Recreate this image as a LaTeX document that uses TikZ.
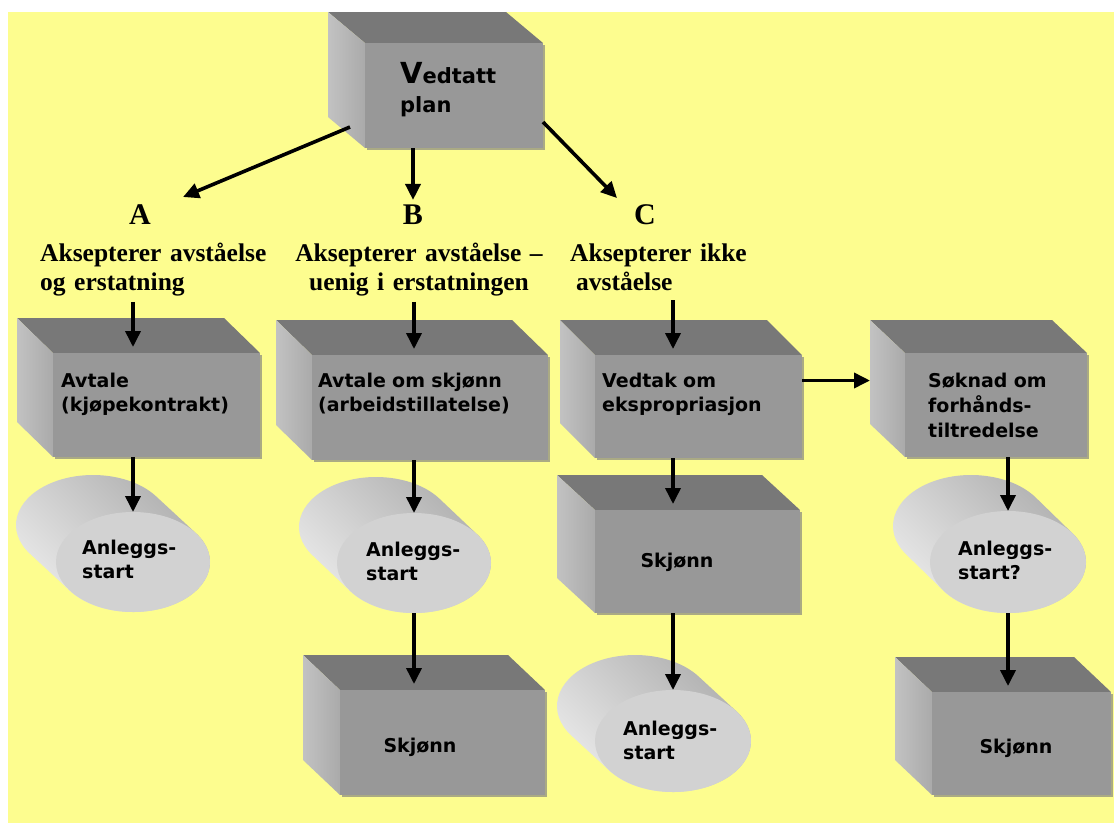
\documentclass[tikz,border=0pt]{standalone}
\usepackage{fontspec}
\setmainfont{Liberation Serif}
\newfontfamily\boxfont{DejaVu Sans}
\usetikzlibrary{arrows.meta,shapes.geometric}
\definecolor{bgyellow}{RGB}{253,253,143}
\definecolor{frontgray}{RGB}{152,152,152}
\definecolor{topgray}{RGB}{120,120,120}
\definecolor{sidelight}{RGB}{194,194,194}
\definecolor{sidedark}{RGB}{170,170,170}
\definecolor{shadowgray}{RGB}{135,135,128}
\definecolor{ellfront}{RGB}{210,210,210}
\definecolor{bodylight}{RGB}{236,236,236}
\definecolor{bodydark}{RGB}{172,172,172}
\tikzset{
  topface/.style={fill=topgray},
  sideface/.style={left color=sidelight, right color=sidedark},
  frontface/.style={rectangle, fill=frontgray, inner sep=0pt, outer sep=0pt},
  shadowline/.style={draw=shadowgray, line width=2pt, opacity=0.7},
  cylbody/.style={top color=bodydark, bottom color=bodylight, shading angle=-45},
  cylfront/.style={ellipse, fill=ellfront, inner sep=0pt, outer sep=0pt},
  arr/.style={line width=3.6pt, -{Triangle[width=15pt,length=16pt]}},
  head/.style={font=\fontsize{30}{30}\selectfont\bfseries, inner sep=5pt},
  choice/.style={font=\fontsize{25.5}{29}\selectfont\bfseries, inner sep=0pt, text width=262pt},
  boxtext/.style={font=\boxfont\fontsize{19}{24}\selectfont\bfseries, inner sep=0pt, text width=200pt, align=left, anchor=base west},
  boxtextc/.style={font=\boxfont\fontsize{19}{24}\selectfont\bfseries, inner sep=0pt, anchor=base},
}
% name, x1, y1, x2, y2 (front face), dx, dy (depth offset)
\newcommand\mycube[7]{%
  \fill[topface] (#2,#3) -- (#4,#3) -- ({#4+#6},{#3+#7}) -- ({#2+#6},{#3+#7}) -- cycle;
  \shade[sideface] (#2,#3) -- ({#2+#6},{#3+#7}) -- ({#2+#6},{#5+#7}) -- (#2,#5) -- cycle;
  \draw[shadowline] ({#2+2},{#5+1}) -- ({#4+1},{#5+1}) -- ({#4+1},{#3+2});
  \pgfmathsetmacro\cw{#4-#2}%
  \pgfmathsetmacro\ch{#5-#3}%
  \node[frontface, minimum width=\cw pt, minimum height=\ch pt] (#1) at ({(#2+#4)/2},{(#3+#5)/2}) {};
  \coordinate (#1-in) at ({(#2+#4)/2},{#3-6});
  \coordinate (#1-bw) at ({#2+#6},{(#3+#5)/2});
}
% name, cx, cy, rx, ry, dx, dy
\newcommand\mycyl[7]{%
  \pgfmathsetmacro\cta{atan(-(#5)*(#6)/((#4)*(#7)))}%
  \pgfmathsetmacro\cpx{#2+#4*cos(\cta)}%
  \pgfmathsetmacro\cpy{#3+#5*sin(\cta)}%
  \pgfmathsetmacro\cqx{#2-#4*cos(\cta)}%
  \pgfmathsetmacro\cqy{#3-#5*sin(\cta)}%
  \pgfmathsetmacro\ctb{\cta-180}%
  \pgfmathsetmacro\ctc{\cta+180}%
  \pgfmathsetmacro\cew{2*#4}%
  \pgfmathsetmacro\ceh{2*#5}%
  \shade[cylbody] (\cpx,\cpy) -- ++(#6,#7)
    arc[start angle=\cta, end angle=\ctb, x radius=#4, y radius=#5]
    -- (\cqx,\cqy)
    arc[start angle=\ctc, end angle=\cta, x radius=#4, y radius=#5] -- cycle;
  \node[cylfront, minimum width=\cew pt, minimum height=\ceh pt] (#1) at (#2,#3) {};
}
\begin{document}
\begin{tikzpicture}[x=1pt,y=-1pt]
\useasboundingbox (0,0) rectangle (1114,823);
\fill[bgyellow] (8,12) rectangle (1114,823);

% boxes
\mycube{plan}{365}{43}{543}{148}{-37}{-31}
\mycube{avtale}{53}{353}{260}{457}{-36}{-35}
\mycube{skjavt}{312}{355}{548}{460}{-36}{-35}
\mycube{vedtak}{595}{355}{802}{458}{-35}{-35}
\mycube{soknad}{905}{353}{1087}{457}{-35}{-33}
\mycube{skjC}{595}{510}{800}{613}{-38}{-35}
\mycube{skjB}{340}{690}{545}{795}{-37}{-35}
\mycube{skjR}{932}{692}{1111}{795}{-37}{-35}

% cylinders
\mycyl{cylA}{133}{562}{77}{50}{-40}{-37}
\mycyl{cylB}{414}{563}{77}{50}{-38}{-36}
\mycyl{cylC}{673}{741}{78}{51}{-38}{-35}
\mycyl{cylR}{1008}{562}{78}{51}{-37}{-36}

% box texts
\node[font=\boxfont\fontsize{21}{29}\selectfont\bfseries, inner sep=0pt, text width=150pt, align=left, anchor=base west] (planT) at (400,83) {{\fontsize{29}{29}\selectfont V}edtatt\\plan};
\node[boxtext] (avtaleT) at (61,387) {Avtale\\(kjøpekontrakt)};
\node[boxtext] (skjavtT) at (318,387) {Avtale om skjønn\\(arbeidstillatelse)};
\node[boxtext] (vedtakT) at (602,387) {Vedtak om\\ekspropriasjon};
\node[boxtext, font=\boxfont\fontsize{19}{25}\selectfont\bfseries] (soknadT) at (928,387) {Søknad om\\forhånds-\\tiltredelse};
\node[boxtextc] (skjCT) at (677,567) {Skjønn};
\node[boxtextc] (skjBT) at (420,752) {Skjønn};
\node[boxtextc] (skjRT) at (1016,753) {Skjønn};

% cylinder texts
\node[boxtext] (cylAT) at (82,554) {Anleggs-\\start};
\node[boxtext] (cylBT) at (366,556) {Anleggs-\\start};
\node[boxtext] (cylCT) at (623,735) {Anleggs-\\start};
\node[boxtext] (cylRT) at (958,555) {Anleggs-\\start?};

% choice labels
\node[head] (labA) at (140,215) {A};
\node[head] (labB) at (413,215) {B};
\node[head] (labC) at (645,215) {C};
\node[choice, align=left, anchor=base west] (txtA) at (40,261) {Aksepterer avståelse\\og erstatning};
\node[choice, align=center, anchor=base] (txtB) at (419,261) {Aksepterer avståelse –\\uenig i erstatningen};
\node[choice, align=left, anchor=base west] (txtC) at (570,261) {Aksepterer ikke\\\hspace*{6pt}avståelse};

% connectors
\path (plan.south west) ++(-15,-21) coordinate (p0);
\path (plan.south east) ++(0,-26) coordinate (p1);
\coordinate (aTip) at (183,197);
\coordinate (cTip) at (617,198);
\draw[arr] (p0) -- (aTip);
\draw[arr] (plan.south -| labB) -- (labB.north);
\draw[arr] (p1) -- (cTip);

\draw[arr, shorten <=6pt] (txtA.south -| cylA) -- (avtale-in -| cylA);
\draw[arr, shorten <=6pt] (txtB.south -| cylB) -- (skjavt-in -| cylB);
\draw[arr, shorten <=10pt] (txtC.south -| cylC) -- (vedtak-in -| cylC);

\draw[arr] (avtale.south -| cylA) -- (cylA.north);
\draw[arr] (skjavt.south -| cylB) -- (cylB.north);
\draw[arr] (cylB.south) -- (skjB-in -| cylB);
\draw[arr] (vedtak.south -| cylC) -- (skjC-in -| cylC);
\draw[arr] (skjC.south -| cylC) -- (cylC.north);
\draw[arr] (soknad.south -| cylR) -- (cylR.north);
\draw[arr] (cylR.south) -- (skjR-in -| cylR);
\path (vedtak.east) ++(0,-26) coordinate (h0);
\draw[arr] (h0) -- (h0 -| soknad-bw);
\end{tikzpicture}
\end{document}
